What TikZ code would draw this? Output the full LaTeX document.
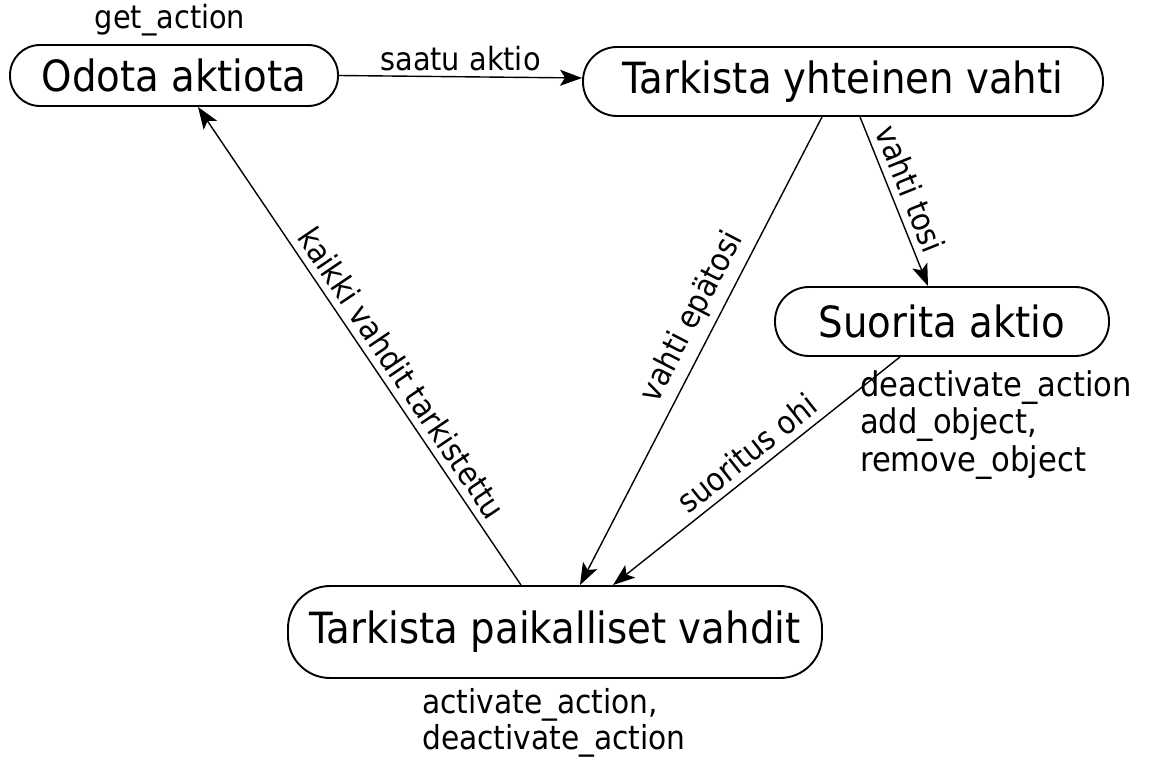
\documentclass[tikz,border=0pt]{standalone}
\usepackage{fontspec}
\setmainfont{DejaVu Sans}[FakeStretch=0.9]
\usetikzlibrary{arrows.meta}
\tikzset{
  state/.style={draw, line width=1.9pt, rectangle, inner sep=0pt, font=\fontsize{43}{50}\selectfont},
  conn/.style={line width=1.4pt, -{Stealth[length=22pt,width=16pt,inset=5pt]}},
  lbl/.style={font=\fontsize{32}{37}\selectfont, inner sep=3pt},
  slbl/.style={lbl, sloped, above, inner sep=7pt},
  note/.style={font=\fontsize{34}{37.5}\selectfont, align=left, inner sep=0pt},
  bnote/.style={font=\fontsize{33}{36.5}\selectfont, align=left, inner sep=0pt}
}
\begin{document}
\begin{tikzpicture}[x=1pt,y=-1pt]
\useasboundingbox (0,0) rectangle (1156,760);
\node[state, minimum width=328pt, minimum height=61pt, rounded corners=30pt] (odota) at (174,75.5) {Odota aktiota};
\node[state, minimum width=520pt, minimum height=69pt, rounded corners=34pt] (yht) at (843,81.5) {Tarkista yhteinen vahti};
\node[state, minimum width=334pt, minimum height=69pt, rounded corners=34pt] (suor) at (942,321.5) {Suorita aktio};
\node[state, minimum width=534pt, minimum height=92pt, rounded corners=42pt] (paik) at (555,632) {Tarkista paikalliset vahdit};

\node[lbl] (get) at (170,20) {get\_action};
\node[note, anchor=north west] (suornote) at (860,370) {deactivate\_action\\add\_object,\\remove\_object};
\node[bnote, anchor=north west] (paiknote) at (422,688) {activate\_action,\\deactivate\_action};

\draw[conn] (odota.east) -- node[lbl, above, inner sep=5pt] {saatu aktio} ([yshift=3.5pt]yht.west);
\draw[conn] ([xshift=-34pt]paik.north) -- node[slbl, pos=0.42] {kaikki vahdit tarkistettu} ([xshift=24pt]odota.south);
\draw[conn] ([xshift=-21pt]yht.south) -- node[slbl, pos=0.45] {vahti epätosi} ([xshift=25pt]paik.north);
\draw[conn] ([xshift=17pt]yht.south) -- node[slbl, pos=0.47] {vahti tosi} ([xshift=-14pt]suor.north);
\draw[conn] ([xshift=-42pt]suor.south) -- node[slbl, pos=0.49] {suoritus ohi} ([xshift=58pt]paik.north);
\end{tikzpicture}
\end{document}
